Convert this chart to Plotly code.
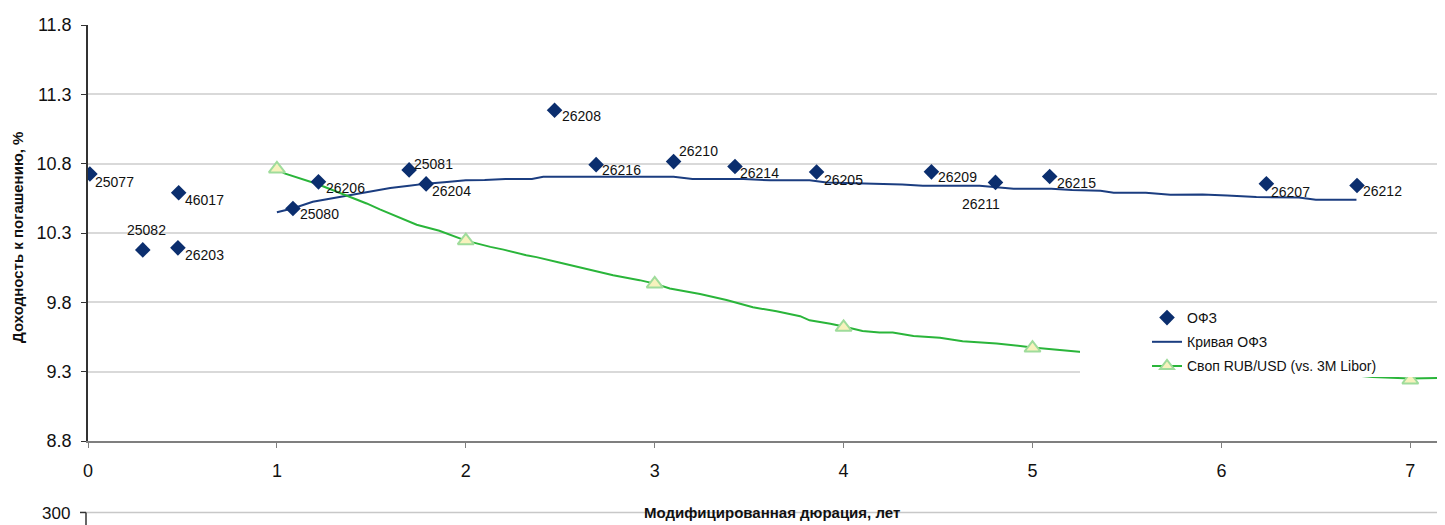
import plotly.graph_objects as go

# ---- data ----
ofz_names = ["25077", "25082", "46017", "26203", "25080", "26206", "25081", "26204",
             "26208", "26216", "26210", "26214", "26205", "26209", "26211", "26215",
             "26207", "26212"]
ofz_dur = [0.01, 0.29, 0.48, 0.476, 1.085, 1.22, 1.70, 1.79,
           2.47, 2.69, 3.10, 3.425, 3.857, 4.465, 4.804, 5.091,
           6.238, 6.718]
ofz_ytm = [10.726, 10.178, 10.59, 10.193, 10.477, 10.669, 10.755, 10.654,
           11.185, 10.793, 10.815, 10.78, 10.74, 10.741, 10.665, 10.707,
           10.655, 10.643]

curve_dur = [1.0, 1.087, 1.19, 1.315, 1.44, 1.545, 1.6, 1.70, 1.79, 1.9, 2.0, 2.1, 2.21,
             2.35, 2.41, 2.6, 2.8, 3.0, 3.1, 3.2, 3.35, 3.47, 3.61, 3.82, 3.91, 4.05,
             4.19, 4.31, 4.42, 4.72, 4.9, 5.1, 5.21, 5.36, 5.43, 5.6, 5.73, 5.9, 6.03,
             6.185, 6.41, 6.5, 6.715]
curve_ytm = [10.449, 10.478, 10.525, 10.556, 10.59, 10.615, 10.625, 10.64, 10.656, 10.668,
             10.68, 10.682, 10.69, 10.69, 10.705, 10.705, 10.705, 10.705, 10.705, 10.69,
             10.69, 10.69, 10.68, 10.68, 10.665, 10.66, 10.655, 10.65, 10.64, 10.64,
             10.62, 10.62, 10.61, 10.605, 10.59, 10.59, 10.575, 10.578, 10.57, 10.56,
             10.556, 10.54, 10.54]

swap_dur = [1.0, 1.04, 1.21, 1.37, 1.475, 1.545, 1.6, 1.74, 1.86, 2.0, 2.13, 2.2, 2.32,
            2.374, 2.5, 2.64, 2.78, 2.92, 3.0, 3.08, 3.24, 3.38, 3.52, 3.645, 3.77,
            3.82, 3.93, 4.0, 4.10, 4.19, 4.26, 4.37, 4.51, 4.63, 4.81, 5.0, 5.25,
            5.5, 6.0, 6.5, 6.8, 7.0, 7.15]
swap_rate = [10.762, 10.73, 10.655, 10.572, 10.513, 10.47, 10.44, 10.36, 10.316, 10.245,
             10.20, 10.18, 10.14, 10.126, 10.086, 10.04, 9.995, 9.96, 9.935, 9.90, 9.86,
             9.817, 9.765, 9.735, 9.70, 9.67, 9.646, 9.625, 9.594, 9.582, 9.582, 9.558,
             9.544, 9.52, 9.503, 9.475, 9.445, 9.41, 9.35, 9.30, 9.262, 9.25, 9.255]
swap_pt_dur = [1, 2, 3, 4, 5, 6, 7]
swap_pt_rate = [10.762, 10.245, 9.933, 9.62, 9.47, 9.35, 9.24]

y_ticks = [8.8, 9.3, 9.8, 10.3, 10.8, 11.3, 11.8]
x_ticks = [0, 1, 2, 3, 4, 5, 6, 7]

# ---- label placement (style, pixel offsets from each marker) ----
lbl_anchor = ["left", "center", "left", "left", "left", "left", "left", "left",
              "left", "left", "left", "left", "left", "left", "center", "left",
              "left", "left"]
lbl_dx = [3, 4, 4, 5, 5, 6, 3, 4, 5, 4, 3, 3, 5, 5, -14, 5, 3, 4]
lbl_dy = [8, -20, 7, 7, 6, 6, -6, 7, 6, 5, -11, 7, 8, 5, 22, 6, 8, 6]

# ---- style ----
NAVY = "#0b2e6e"
LINE_BLUE = "#1b3d80"
GREEN = "#2ab53a"
SANS = "Liberation Sans, Arial, sans-serif"

OFF = 8  # page body margin
W, H = 1445 - OFF, 525 - OFF
L, T = 88 - OFF, 19 - OFF
PW, PH = 1350, 422
R, B = W - L - PW, H - T - PH


def sx(xs):
    return (xs - OFF - L) / PW


def sy(ys):
    return (T + PH - (ys - OFF)) / PH


fig = go.Figure()

fig.add_trace(go.Scatter(
    x=curve_dur, y=curve_ytm, mode="lines", name="Кривая ОФЗ",
    line=dict(color=LINE_BLUE, width=2), showlegend=False))

fig.add_trace(go.Scatter(
    x=swap_dur, y=swap_rate, mode="lines", name="Своп RUB/USD (vs. 3M Libor)",
    line=dict(color=GREEN, width=2), showlegend=False))

fig.add_trace(go.Scatter(
    x=swap_pt_dur, y=swap_pt_rate, mode="markers", showlegend=False,
    marker=dict(symbol="triangle-up", size=14, color="#f7f2bd",
                line=dict(color="#9fdc9b", width=2))))

fig.add_trace(go.Scatter(
    x=ofz_dur, y=ofz_ytm, mode="markers", name="ОФЗ",
    marker=dict(symbol="diamond", size=12, color=NAVY), showlegend=False))

# legend entries
fig.add_trace(go.Scatter(x=[None], y=[None], mode="markers", name="ОФЗ", legendgroup="a",
                         marker=dict(symbol="diamond", size=12, color=NAVY)))
fig.add_trace(go.Scatter(x=[None], y=[None], mode="lines", name="Кривая ОФЗ", legendgroup="b",
                         line=dict(color=LINE_BLUE, width=2)))
fig.add_trace(go.Scatter(x=[None], y=[None], mode="lines+markers", legendgroup="c",
                         name="Своп RUB/USD (vs. 3M Libor)",
                         line=dict(color=GREEN, width=2),
                         marker=dict(symbol="triangle-up", size=12, color="#f7f2bd",
                                     line=dict(color="#9fdc9b", width=2))))

shapes = [
    # white legend box covering the plot
    dict(type="rect", xref="paper", yref="paper", x0=sx(1080), x1=sx(1445),
         y0=sy(376), y1=sy(303), fillcolor="white", line=dict(width=0), layer="above"),
    # top of the next chart (cropped)
    dict(type="line", xref="paper", yref="paper", x0=sx(86), x1=sx(1440),
         y0=sy(513.5), y1=sy(513.5), line=dict(color="#c8c8c8", width=1.5)),
    dict(type="line", xref="paper", yref="paper", x0=sx(80), x1=sx(86),
         y0=sy(513.5), y1=sy(513.5), line=dict(color="#333333", width=1.5)),
    dict(type="line", xref="paper", yref="paper", x0=sx(86), x1=sx(86),
         y0=sy(513.5), y1=sy(530), line=dict(color="#333333", width=1.5)),
]

annotations = [
    dict(text="<b>Модифицированная дюрация, лет</b>", xref="paper", yref="paper",
         x=sx(772), y=sy(514), showarrow=False, xanchor="center", yanchor="middle",
         font=dict(family=SANS, size=15, color="#111111")),
    dict(text="<b>Доходность к погашению, %</b>", xref="paper", yref="paper",
         x=sx(18), y=sy(235), showarrow=False, xanchor="center", yanchor="middle",
         textangle=-90, font=dict(family=SANS, size=15, color="#111111")),
    dict(text="300", xref="paper", yref="paper", x=sx(72), y=sy(515),
         showarrow=False, xanchor="right", yanchor="middle",
         font=dict(family=SANS, size=17, color="#111111")),
]

for name, xd, yd, anc, dx, dy in zip(ofz_names, ofz_dur, ofz_ytm, lbl_anchor, lbl_dx, lbl_dy):
    annotations.append(dict(
        text=name, x=xd, y=yd, xref="x", yref="y", showarrow=False,
        xanchor=anc, yanchor="middle", xshift=dx, yshift=-dy,
        font=dict(family=SANS, size=14, color="#111111")))

fig.update_layout(
    width=W, height=H,
    margin=dict(l=L, r=R, t=T, b=B, pad=0),
    paper_bgcolor="white", plot_bgcolor="white",
    font=dict(family=SANS, color="#111111"),
    shapes=shapes, annotations=annotations,
    legend=dict(x=sx(1147), y=sy(300), xanchor="left", yanchor="top",
                bgcolor="rgba(0,0,0,0)", borderwidth=0,
                font=dict(family=SANS, size=14, color="#111111"),
                traceorder="grouped", tracegroupgap=3),
    xaxis=dict(range=[0, PW / 188.9], tickvals=x_ticks,
               ticktext=[str(v) for v in x_ticks],
               showgrid=False, zeroline=False, showline=True,
               linecolor="#7f7f7f", linewidth=2, ticks="outside", ticklen=5,
               tickcolor="#7f7f7f", tickwidth=1,
               tickfont=dict(family=SANS, size=18, color="#111111"),
               ticklabelstandoff=7),
    yaxis=dict(range=[8.8, 11.8], tickvals=y_ticks,
               ticktext=[f"{v:.1f}" for v in y_ticks],
               showgrid=True, gridcolor="#d9d9d9", gridwidth=1.5,
               zeroline=False, showline=True, linecolor="#333333", linewidth=1.5,
               ticks="outside", ticklen=5, tickcolor="#333333", tickwidth=1,
               tickfont=dict(family=SANS, size=18, color="#111111"),
               ticklabelstandoff=6),
)

fig.write_html("out.html")
